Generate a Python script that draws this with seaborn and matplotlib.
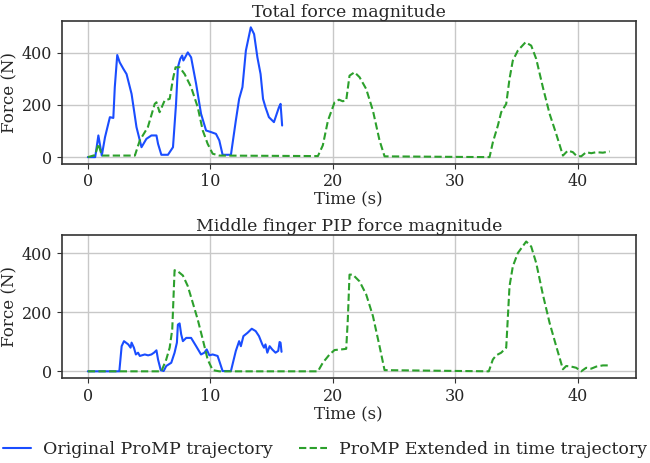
import numpy as np
import pandas as pd
import matplotlib.pyplot as plt
import seaborn as sns

# total force - original trajectory
t_tot_orig = [0, 0.6, 0.86, 1.14, 1.4, 1.8, 2.08, 2.2, 2.4, 2.6, 2.9, 3.16, 3.57, 3.97, 4.38,
              4.78, 5.19, 5.6, 5.73, 6.0, 6.54, 6.95, 7.2, 7.35, 7.54, 7.7, 7.8, 8.16, 8.43,
              8.84, 9.24, 9.65, 10.05, 10.46, 10.73, 11.0, 11.68, 12.08, 12.35, 12.62, 12.9,
              13.3, 13.57, 13.84, 14.1, 14.3, 14.5, 14.78, 15.19, 15.6, 15.73, 15.86]
f_tot_orig = [0, 0, 83, 6, 76, 153, 150, 268, 391, 363, 338, 318, 242, 115, 38,
              70, 83, 83, 51, 9, 9, 38, 204, 344, 376, 389, 370, 401, 382,
              280, 166, 102, 96, 89, 64, 9, 9, 140, 223, 268, 408,
              497, 471, 382, 318, 223, 191, 153, 134, 191, 204, 121]

# total force - extended trajectory
t_tot_ext = [0, 0.6, 0.86, 1.14, 3.84, 4.24, 4.9, 5.46, 5.6, 5.86, 6.27, 6.68, 6.95, 7.16, 7.49,
             7.9, 8.43, 8.97, 9.38, 9.78, 10.19, 10.73, 18.78, 19.18, 19.6, 20.14, 20.5, 20.8,
             21.09, 21.36, 21.77, 22.18, 22.72, 23.27, 23.81, 24.22, 32.79, 33.06, 33.47, 33.74,
             34.15, 34.42, 34.69, 35.1, 35.73, 36.19, 36.6, 37.14, 37.69, 38.23, 38.78, 39.18,
             39.59, 39.86, 40.27, 40.68, 41.09, 41.5, 42.04, 42.59]
f_tot_ext = [0, 8, 51, 6, 6, 64, 115, 204, 210, 172, 217, 223, 300, 344, 344,
             318, 268, 191, 102, 51, 13, 6, 4, 45, 140, 210, 220, 214,
             217, 312, 325, 306, 261, 178, 64, 3, 0, 57, 121, 172,
             204, 300, 370, 408, 440, 427, 376, 268, 166, 89, 6, 25,
             19, 6, 3, 19, 15, 19, 17, 22]

# middle finger PIP - original trajectory
t_pip_orig = [0, 2.57, 2.76, 2.95, 3.3, 3.49, 3.57, 3.76, 3.92, 4.1, 4.24, 4.65, 4.92, 5.19,
              5.4, 5.6, 5.73, 5.95, 6.19, 6.4, 6.81, 7.08, 7.27, 7.35, 7.49, 7.62, 7.76, 8.03,
              8.43, 8.84, 9.24, 9.51, 9.7, 9.92, 10.19, 10.59, 10.73, 11.0, 11.68, 12.08, 12.35,
              12.49, 12.7, 13.03, 13.38, 13.7, 13.97, 14.24, 14.38, 14.5, 14.65, 14.84, 15.05,
              15.32, 15.54, 15.65, 15.73, 15.81]
f_pip_orig = [0, 0, 85, 102, 91, 80, 97, 80, 57, 63, 52, 57, 54, 57,
              63, 71, 40, 4, 1, 18, 29, 63, 97, 158, 162, 125, 102, 113,
              113, 85, 57, 63, 74, 54, 57, 52, 35, 1, 1, 69, 102,
              85, 119, 130, 144, 136, 119, 91, 80, 91, 63, 85, 74,
              63, 69, 99, 97, 66]

# middle finger PIP - extended trajectory
t_pip_ext = [0, 6.0, 6.4, 6.68, 6.89, 7.08, 7.35, 7.76, 8.16, 8.57, 8.97, 9.38, 9.78, 10.19,
             10.73, 18.78, 19.18, 19.73, 20.14, 20.68, 21.09, 21.22, 21.36, 21.63, 22.18, 22.72,
             23.27, 23.81, 24.22, 32.73, 33.06, 33.33, 33.74, 34.15, 34.42, 34.69, 35.1, 35.78,
             36.19, 36.6, 37.14, 37.69, 38.23, 38.78, 39.05, 39.46, 39.86, 40.27, 40.68, 41.09,
             41.5, 42.04, 42.59]
f_pip_ext = [0, 0, 40, 80, 142, 342, 338, 324, 288, 231, 175, 108, 40, 4,
             0, 0, 29, 57, 72, 74, 76, 175, 327, 327, 304, 260,
             187, 85, 4, 0, 40, 54, 63, 80, 288, 355, 400, 439,
             422, 366, 260, 164, 85, 7, 18, 16, 12, 0, 12, 9,
             16, 20, 20]

lab_orig = 'Original ProMP trajectory'
lab_ext = 'ProMP Extended in time trajectory'
titles = ['Total force magnitude', 'Middle finger PIP force magnitude']

fs = 12.5
sns.set_style('ticks', {'axes.grid': True})
plt.rcParams['font.family'] = ['DejaVu Serif']
plt.rcParams['font.size'] = fs

fig, axes = plt.subplots(2, 1, figsize=(6.5, 4.63), dpi=100)
plt.subplots_adjust(left=0.095, right=0.978, top=0.955, bottom=0.184, hspace=0.5)

panels = [(t_tot_orig, f_tot_orig, t_tot_ext, f_tot_ext),
          (t_pip_orig, f_pip_orig, t_pip_ext, f_pip_ext)]

for ax, title, (to, fo, te, fe) in zip(axes, titles, panels):
    sns.lineplot(x=to, y=fo, ax=ax, color='#1a4dff', lw=1.5, label=lab_orig)
    sns.lineplot(x=te, y=fe, ax=ax, color='#2ca02c', lw=1.5, ls=(0, (3.5, 1.6)), label=lab_ext)
    ax.set_title(title, fontsize=fs, pad=2)
    ax.set_xlabel('Time (s)', fontsize=12, labelpad=1)
    ax.set_ylabel('Force (N)', fontsize=12, labelpad=2)
    ax.set_xticks([0, 10, 20, 30, 40])
    ax.set_yticks([0, 200, 400])
    ax.tick_params(labelsize=11.5, length=3.5, pad=3.5, color='#333333')
    ax.grid(True, color='#c8c8c8', lw=1)
    for s in ax.spines.values():
        s.set_color('#333333')
        s.set_linewidth(1.2)
    ax.get_legend().remove()

handles, labels = axes[0].get_legend_handles_labels()
fig.legend(handles, labels, loc='center', bbox_to_anchor=(0.5, 1 - 450 / 463), ncol=2,
           frameon=False, fontsize=fs, columnspacing=1.5, handlelength=1.6,
           handletextpad=0.7, borderaxespad=0)

plt.savefig('out.png', dpi=100)
